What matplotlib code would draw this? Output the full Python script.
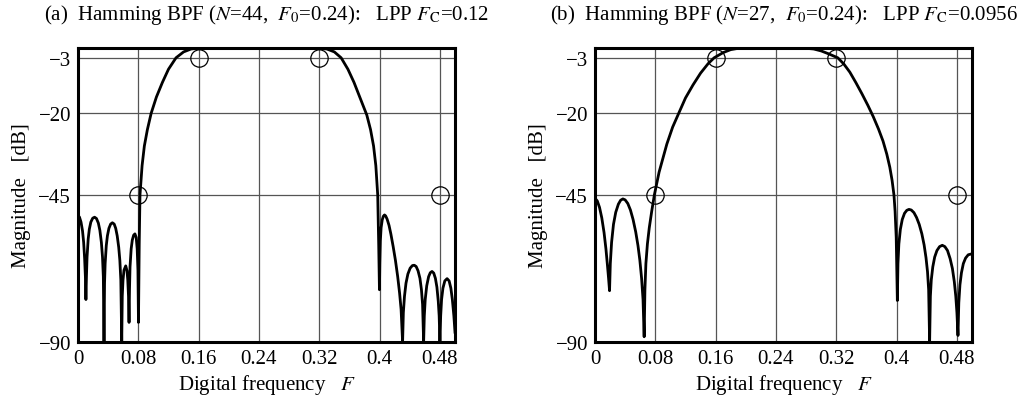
import matplotlib
matplotlib.use("Agg")
import matplotlib.pyplot as plt

plt.rcParams["font.family"] = ["Liberation Serif", "DejaVu Serif"]
plt.rcParams["mathtext.fontset"] = "stix"
plt.rcParams["axes.unicode_minus"] = True

# ---- data -------------------------------------------------------------
# (a) Hamming BPF, N=44, F0=0.24, LPP Fc=0.12
freq_a = [0.0, 0.002, 0.004, 0.006, 0.0075, 0.0088, 0.0098, 0.0105,
          0.0112, 0.012, 0.0135, 0.015, 0.017, 0.0195, 0.022, 0.0245, 0.027, 0.029,
          0.031, 0.0325, 0.0336, 0.0345,
          0.0352, 0.036, 0.0375, 0.039, 0.041, 0.0433, 0.0456, 0.048, 0.050, 0.052,
          0.054, 0.0555, 0.0568, 0.058,
          0.0587, 0.0597, 0.061, 0.0633, 0.065, 0.066, 0.067, 0.0677,
          0.0683, 0.069, 0.0705, 0.072, 0.0738, 0.0755, 0.0772, 0.0785, 0.0795, 0.0802,
          0.0812, 0.0822, 0.085, 0.088, 0.092, 0.097, 0.104, 0.112, 0.12, 0.13,
          0.14, 0.15, 0.16, 0.2, 0.24, 0.28, 0.32, 0.33, 0.34, 0.349, 0.358,
          0.366, 0.372, 0.378, 0.383, 0.388, 0.392, 0.395, 0.3975, 0.3988, 0.3998,
          0.4003, 0.401, 0.402, 0.4035, 0.405, 0.4065, 0.408, 0.410, 0.4125, 0.415,
          0.418, 0.421, 0.424, 0.4265, 0.4285, 0.4305,
          0.4315, 0.433, 0.435, 0.4375, 0.4405, 0.4435, 0.446, 0.4485, 0.451, 0.4535,
          0.4555, 0.457, 0.4584,
          0.4593, 0.4605, 0.4625, 0.465, 0.4672, 0.4695, 0.4718, 0.474, 0.476, 0.4778,
          0.479, 0.48,
          0.481, 0.4822, 0.484, 0.4865, 0.4895, 0.4922, 0.4945, 0.4965, 0.4985, 0.5]
mag_a = [-51.2, -51.8, -53.3, -56.0, -59.5, -64.5, -70.0, -77.0,
         -70.0, -64.0, -58.5, -55.5, -53.3, -52.1, -51.8, -52.2, -53.6, -55.8,
         -59.5, -64.0, -70.0, -90.0,
         -72.0, -66.0, -60.5, -57.5, -55.2, -53.9, -53.5, -53.9, -55.2, -57.5,
         -61.0, -65.0, -71.0, -90.0,
         -76.0, -71.0, -68.0, -66.7, -68.2, -71.0, -76.0, -84.0,
         -74.0, -67.0, -61.5, -58.8, -57.3, -56.9, -58.0, -61.5, -68.0, -84.0,
         -60.0, -45.0, -36.0, -30.0, -25.0, -20.0, -15.0, -10.5, -6.5, -3.0,
         -1.2, -0.3, -0.05, 0.0, 0.0, 0.0, -0.05, -0.3, -1.2, -3.0, -6.5,
         -10.5, -14.0, -17.5, -20.5, -25.0, -30.0, -36.0, -45.0, -60.0, -74.0,
         -66.0, -59.0, -55.0, -52.6, -51.5, -51.1, -51.4, -52.4, -54.3, -57.0,
         -60.8, -65.0, -70.0, -75.0, -80.0, -90.0,
         -81.0, -76.0, -72.0, -69.2, -67.4, -66.6, -66.5, -66.9, -68.2, -70.5,
         -74.0, -78.5, -90.0,
         -82.0, -77.0, -72.8, -70.0, -68.8, -68.4, -68.9, -70.5, -73.2, -77.5,
         -82.0, -90.0,
         -82.0, -77.0, -73.5, -71.3, -70.6, -71.3, -73.5, -77.0, -82.0, -87.0]

# (b) Hamming BPF, N=27, F0=0.24, LPP Fc=0.0956
freq_b = [0.0, 0.003, 0.006, 0.009, 0.012, 0.0145, 0.0165, 0.018, 0.0193,
          0.0203, 0.022, 0.0245, 0.0275, 0.031, 0.034, 0.037, 0.040, 0.0435, 0.047,
          0.0505, 0.054, 0.057, 0.0595, 0.0618, 0.0637, 0.0652,
          0.0662, 0.0675, 0.0695, 0.072, 0.0752, 0.0787, 0.085, 0.0953, 0.103, 0.111,
          0.12, 0.130, 0.14, 0.15, 0.158, 0.17, 0.18, 0.19, 0.2, 0.24, 0.28, 0.29,
          0.30, 0.31, 0.322, 0.33, 0.338, 0.346, 0.354, 0.362, 0.369, 0.376, 0.382,
          0.387, 0.391, 0.394, 0.3965, 0.398, 0.3995, 0.401,
          0.4018, 0.403, 0.405, 0.4075, 0.4105, 0.4135, 0.4164, 0.4195, 0.423, 0.4265,
          0.430, 0.4335, 0.4365, 0.439, 0.441, 0.4425, 0.4438,
          0.4448, 0.446, 0.448, 0.4505, 0.4535, 0.457, 0.4606, 0.464, 0.4675, 0.471,
          0.474, 0.4765, 0.4785, 0.480, 0.4814,
          0.4825, 0.484, 0.486, 0.4885, 0.4915, 0.495, 0.5]
mag_b = [-46.0, -46.8, -48.8, -52.0, -56.5, -61.5, -66.5, -70.5, -74.3,
         -66.0, -59.5, -54.0, -50.3, -47.8, -46.6, -46.2, -46.5, -47.6, -49.6,
         -52.5, -56.3, -60.5, -65.0, -70.5, -77.0, -88.4,
         -74.0, -66.0, -60.0, -55.0, -50.0, -45.0, -38.0, -29.4, -24.2, -20.0,
         -15.3, -11.3, -7.7, -4.8, -3.0, -1.4, -0.5, -0.1, 0.0, 0.0, -0.1, -0.3,
         -0.9, -1.8, -3.0, -4.9, -7.4, -10.6, -14.0, -17.6, -21.0, -24.8, -28.5,
         -32.5, -36.5, -40.5, -45.0, -50.0, -58.0, -77.3,
         -66.0, -60.0, -55.5, -52.5, -50.6, -49.7, -49.4, -49.6, -50.4, -51.9,
         -54.0, -56.9, -60.3, -64.2, -68.5, -74.0, -90.0,
         -76.0, -71.0, -67.0, -64.0, -62.0, -60.8, -60.4, -60.8, -62.0, -64.5,
         -67.5, -71.5, -76.0, -81.0, -88.0,
         -78.0, -72.5, -68.8, -66.0, -64.3, -63.3, -63.0]

# specification points (pass-band -3 dB, stop-band -45 dB)
spec_freq = [0.08, 0.16, 0.32, 0.48]
spec_mag = [-45, -3, -3, -45]

titles = [r"(a)  Hamming BPF ($N$=44,  $F_0$=0.24):   LPP $F_\mathrm{C}$=0.12",
          r"(b)  Hamming BPF ($N$=27,  $F_0$=0.24):   LPP $F_\mathrm{C}$=0.0956"]
xticks = [0, 0.08, 0.16, 0.24, 0.32, 0.4, 0.48]
xtick_labels = ["0", "0.08", "0.16", "0.24", "0.32", "0.4", "0.48"]
yticks = [-3, -20, -45, -90]
ytick_labels = ["\u22123", "\u221220", "\u221245", "\u221290"]

# ---- figure -----------------------------------------------------------
W, H = 1024, 406
fig = plt.figure(figsize=(W / 100, H / 100), dpi=100)
ax_left_px = [78, 595]
ax_w, ax_top, ax_bot = 377, 49, 343
fs = 15

for i, (fr, mg) in enumerate([(freq_a, mag_a), (freq_b, mag_b)]):
    ax = fig.add_axes([ax_left_px[i] / W, (H - ax_bot) / H,
                       ax_w / W, (ax_bot - ax_top) / H])
    ax.set_xlim(0, 0.5)
    ax.set_ylim(-90, 0)
    ax.set_xticks(xticks)
    ax.set_xticklabels(xtick_labels)
    ax.set_yticks(yticks)
    ax.set_yticklabels(ytick_labels)
    ax.tick_params(length=0, labelsize=fs, pad=5)
    ax.grid(True, color="#555555", linewidth=0.9)
    ax.set_axisbelow(True)
    for s in ax.spines.values():
        s.set_linewidth(2.2)
        s.set_zorder(5)

    ax.plot(fr, mg, color="black", linewidth=2.0, solid_joinstyle="round",
            clip_on=True, zorder=3)
    ax.plot(spec_freq, spec_mag, linestyle="none", marker="o", markersize=12.5,
            markerfacecolor="none", markeredgecolor="black", markeredgewidth=0.9,
            clip_on=False, zorder=4)

    ax.set_xlabel(r"Digital frequency   $F$", fontsize=fs, labelpad=3)
    ax.set_ylabel("Magnitude   [dB]", fontsize=fs, labelpad=5)
    ax.text(0.5, 1.10, titles[i], transform=ax.transAxes, ha="center",
            va="baseline", fontsize=fs)

fig.savefig("out.png", dpi=100)
